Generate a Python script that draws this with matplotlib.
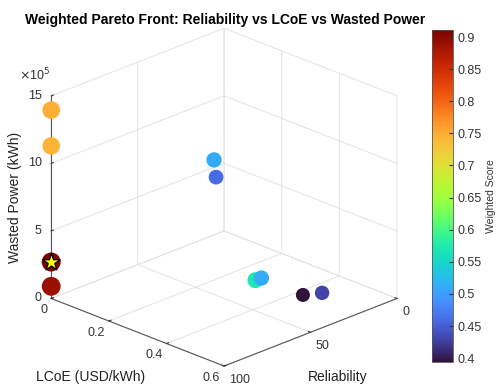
import matplotlib
matplotlib.use("Agg")
import matplotlib.pyplot as plt
import numpy as np
from matplotlib.ticker import FuncFormatter

# ---- data ----
lcoe = [0.0, 0.0, 0.0, 0.0, 0.115, 0.122, 0.273, 0.334, 0.421, 0.445]
reliability = [100, 100, 100, 100, 25.0, 25.0, 27.4, 34.1, 24.6, 17.5]
wasted = [13.95e5, 11.3e5, 2.7e5, 0.9e5, 7.47e5, 6.25e5, 0.0, 1.0e5, 0.0, 0.0]
score = [0.748, 0.745, 0.911, 0.89, 0.51, 0.46, 0.57, 0.51, 0.394, 0.43]

lcoe_ticks = [0, 0.2, 0.4, 0.6]
rel_ticks = [0, 50, 100]
wasted_ticks = [0, 5e5, 10e5, 15e5]
cbar_ticks = [0.4, 0.45, 0.5, 0.55, 0.6, 0.65, 0.7, 0.75, 0.8, 0.85, 0.9]

plt.rcParams['font.family'] = ['Liberation Sans', 'DejaVu Sans']

fig = plt.figure(figsize=(4.97, 3.85), dpi=100)
ax = fig.add_axes([0.001, 0.0, 0.88, 0.95], projection='3d', proj_type='ortho',
                  computed_zorder=False)

sc_arr = np.array(score)
sizes = 37 + 165 * sc_arr
vmin, vmax = min(score), max(score)
sc = ax.scatter(reliability, lcoe, wasted, c=score, cmap='turbo', vmin=vmin, vmax=vmax,
                s=sizes, depthshade=False, edgecolors='none', alpha=1, zorder=2)
best = int(np.argmax(sc_arr))
ax.scatter([reliability[best]], [lcoe[best]], [wasted[best]], marker='*', s=170,
           c='yellow', edgecolors='black', linewidths=0.9, depthshade=False, zorder=10)

ax.set_xlim(0, 100)
ax.set_ylim(0, 0.6)
ax.set_zlim(0, 15e5)
ax.set_xticks(rel_ticks)
ax.set_yticks(lcoe_ticks)
ax.set_zticks(wasted_ticks)
ax.set_yticklabels(['0', '0.2', '0.4', '0.6'])
ax.zaxis.set_major_formatter(FuncFormatter(lambda v, p: f"{v/1e5:g}"))

ax.view_init(elev=23, azim=45)
ax.set_box_aspect((1, 1, 0.9), zoom=1.088)

for a in (ax.xaxis, ax.yaxis, ax.zaxis):
    a.set_pane_color((1, 1, 1, 0))
    a.pane.set_edgecolor('#d9d9d9')
    a.line.set_color('#555555')
    a.line.set_linewidth(0.8)
    a._axinfo['grid']['color'] = '#e3e3e3'
    a._axinfo['grid']['linewidth'] = 0.7
    a._axinfo['tick']['inward_factor'] = 0.0
    a._axinfo['tick']['outward_factor'] = 0.15
    a.set_tick_params(labelsize=9, colors='#333333', pad=-5)
ax.zaxis.set_tick_params(pad=-4.3)
ax.xaxis.set_tick_params(pad=-4.0)

for t in ax.yaxis.get_majorticklabels():
    t.set_horizontalalignment('right')
for t in ax.xaxis.get_majorticklabels():
    t.set_horizontalalignment('left')
for t in ax.zaxis.get_majorticklabels():
    t.set_horizontalalignment('right')
    t.set_verticalalignment('center')

ax.set_xlabel('')
ax.set_ylabel('')
ax.set_zlabel('')

fig.text(0.453, 0.948, 'Weighted Pareto Front: Reliability vs LCoE vs Wasted Power',
         ha='center', va='center', fontsize=10, fontweight='bold')
fig.text(0.030, 0.488, 'Wasted Power (kWh)', rotation=90, ha='center', va='center', fontsize=10, color='#222222')
fig.text(0.183, 0.021, 'LCoE (USD/kWh)', ha='center', va='center', fontsize=10, color='#222222')
fig.text(0.68, 0.021, 'Reliability', ha='center', va='center', fontsize=10, color='#222222')
fig.text(0.07, 0.805, r'$\times$10$^5$', ha='center', va='center', fontsize=9, color='#333333')

cax = fig.add_axes([432/497, 1 - 362/385, 21/497, 332/385])
cb = fig.colorbar(sc, cax=cax, ticks=cbar_ticks)
cb.ax.tick_params(labelsize=9, length=3, direction='in', colors='#333333')
cb.ax.set_yticklabels([f"{t:g}" for t in cbar_ticks])
cb.outline.set_edgecolor('#555555')
cb.outline.set_linewidth(0.6)
cb.set_label('Weighted Score', fontsize=7.5, color='#333333', labelpad=3)

fig.savefig('out.png', dpi=100)
